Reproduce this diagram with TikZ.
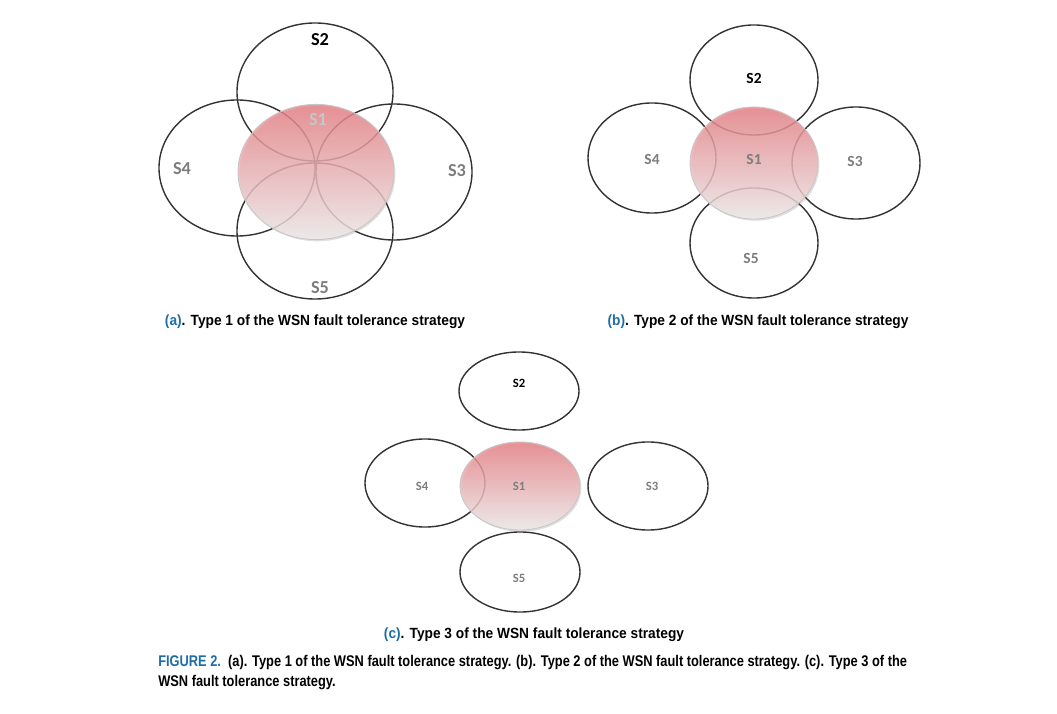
\documentclass[tikz,border=0pt]{standalone}
\usepackage{fontspec}
\setmainfont{Liberation Sans}
\newfontfamily\lblfont{Carlito}
\newfontfamily\subcapfont[FakeStretch=0.93]{Liberation Sans}
\newfontfamily\figcapfont[FakeStretch=0.83]{Liberation Sans}
\usetikzlibrary{shapes.geometric,shadows}
\definecolor{lblgray}{RGB}{125,125,125}
\definecolor{capblue}{RGB}{30,110,165}
\definecolor{pinktop}{RGB}{232,125,130}
\definecolor{pinkbot}{RGB}{240,236,236}

\begin{document}
\begin{tikzpicture}[x=0.025cm,y=-0.025cm]
    % Define styles
    \tikzstyle{sensor} = [ellipse, draw=black!80, line width=1pt, outer sep=0pt, inner sep=0pt]
    \tikzstyle{hub} = [ellipse, draw=gray!45, line width=0.6pt, outer sep=0pt, inner sep=0pt,
        top color=pinktop, bottom color=pinkbot, fill opacity=0.8,
        drop shadow={shadow xshift=1pt, shadow yshift=-1.2pt, opacity=0.25}]
    \tikzstyle{lbl} = [font=\lblfont\bfseries, text=lblgray]
    \tikzstyle{subcap} = [font=\subcapfont\bfseries\fontsize{10.5}{12}\selectfont]

    \useasboundingbox (0,0) rectangle (1057,714);

    % (a) Type 1
    \node [sensor, minimum width=3.9cm, minimum height=3.45cm] (a2) at (315,92) {};
    \node [sensor, minimum width=3.9cm, minimum height=3.4cm] (a4) at (237,168) {};
    \node [sensor, minimum width=3.9cm, minimum height=3.4cm] (a3) at (394,172) {};
    \node [sensor, minimum width=3.9cm, minimum height=3.4cm] (a5) at (315,231) {};
    \node [hub, minimum width=3.9cm, minimum height=3.38cm] (a1) at (316,172) {};
    \node [lbl, text=black, font=\lblfont\bfseries\fontsize{13}{15}\selectfont] (a2t) at (320,40) {S2};
    \node [lbl, text=gray!45, font=\lblfont\bfseries\fontsize{13}{15}\selectfont] (a1t) at (318,120) {S1};
    \node [lbl, font=\lblfont\bfseries\fontsize{13}{15}\selectfont] (a4t) at (182,169) {S4};
    \node [lbl, font=\lblfont\bfseries\fontsize{13}{15}\selectfont] (a3t) at (457,171) {S3};
    \node [lbl, font=\lblfont\bfseries\fontsize{13}{15}\selectfont] (a5t) at (320,288) {S5};
    \node [subcap] (acap) at (315,322) {\textcolor{capblue}{(a)}. Type 1 of the WSN fault tolerance strategy};

    % (b) Type 2
    \node [sensor, minimum width=3.2cm, minimum height=2.75cm] (b2) at (754,80) {};
    \node [sensor, minimum width=3.2cm, minimum height=2.75cm] (b4) at (652,158) {};
    \node [sensor, minimum width=3.2cm, minimum height=2.8cm] (b3) at (856,163) {};
    \node [sensor, minimum width=3.2cm, minimum height=2.75cm] (b5) at (754,243) {};
    \node [hub, minimum width=3.2cm, minimum height=2.8cm] (b1) at (754,163) {};
    \node [lbl, text=black, font=\lblfont\bfseries\fontsize{11}{13}\selectfont] (b2t) at (754,78) {S2};
    \node [lbl, font=\lblfont\bfseries\fontsize{11}{13}\selectfont] (b1t) at (754,159) {S1};
    \node [lbl, font=\lblfont\bfseries\fontsize{11}{13}\selectfont] (b4t) at (652,159) {S4};
    \node [lbl, font=\lblfont\bfseries\fontsize{11}{13}\selectfont] (b3t) at (855,161) {S3};
    \node [lbl, font=\lblfont\bfseries\fontsize{11}{13}\selectfont] (b5t) at (751,258) {S5};
    \node [subcap] (bcap) at (758,322) {\textcolor{capblue}{(b)}. Type 2 of the WSN fault tolerance strategy};

    % (c) Type 3
    \node [sensor, minimum width=3cm, minimum height=1.95cm] (c2) at (519,391) {};
    \node [sensor, minimum width=3cm, minimum height=2.2cm] (c4) at (425,483) {};
    \node [sensor, minimum width=3cm, minimum height=2.2cm] (c3) at (648,486) {};
    \node [sensor, minimum width=3cm, minimum height=2cm] (c5) at (520,572) {};
    \node [hub, minimum width=3cm, minimum height=2.2cm] (c1) at (520,486) {};
    \node [lbl, text=black, font=\lblfont\bfseries\fontsize{9}{11}\selectfont] (c2t) at (519,383) {S2};
    \node [lbl, font=\lblfont\bfseries\fontsize{9}{11}\selectfont] (c1t) at (519,486) {S1};
    \node [lbl, font=\lblfont\bfseries\fontsize{9}{11}\selectfont] (c4t) at (422,486) {S4};
    \node [lbl, font=\lblfont\bfseries\fontsize{9}{11}\selectfont] (c3t) at (652,486) {S3};
    \node [lbl, font=\lblfont\bfseries\fontsize{9}{11}\selectfont] (c5t) at (519,578) {S5};
    \node [subcap] (ccap) at (534,635) {\textcolor{capblue}{(c)}. Type 3 of the WSN fault tolerance strategy};

    % Figure caption
    \node [anchor=north west, align=left, inner sep=0pt, font=\figcapfont\bfseries\fontsize{11}{14.2}\selectfont] (figcap) at (158,655)
        {\textcolor{capblue}{FIGURE 2.}\ \ (a). Type 1 of the WSN fault tolerance strategy. (b). Type 2 of the WSN fault tolerance strategy. (c). Type 3 of the\\
         WSN fault tolerance strategy.};
\end{tikzpicture}
\end{document}
